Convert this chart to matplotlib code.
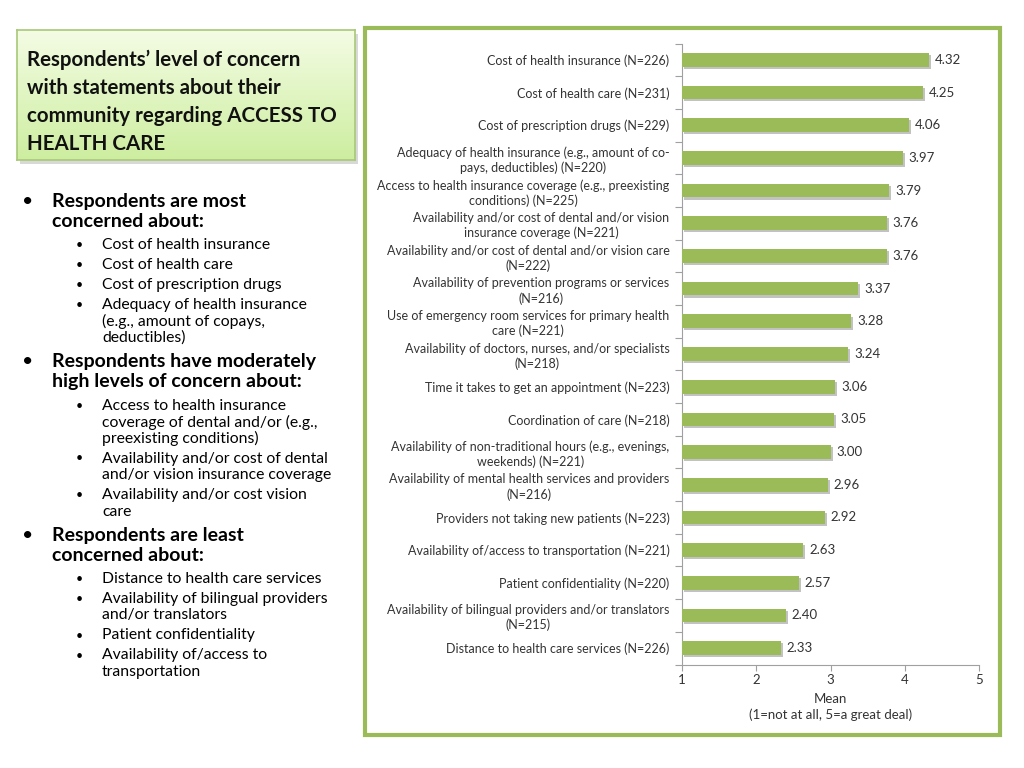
import numpy as np
import matplotlib
matplotlib.use("Agg")
import matplotlib.pyplot as plt
from matplotlib.patches import Rectangle
import matplotlib.patheffects as pe

plt.rcParams['font.family'] = ['Lato', 'DejaVu Sans']

# chart data, top to bottom
items = [
    "Cost of health insurance (N=226)",
    "Cost of health care (N=231)",
    "Cost of prescription drugs (N=229)",
    "Adequacy of health insurance (e.g., amount of co-\npays, deductibles) (N=220)",
    "Access to health insurance coverage (e.g., preexisting\nconditions) (N=225)",
    "Availability and/or cost of dental and/or vision\ninsurance coverage (N=221)",
    "Availability and/or cost of dental and/or vision care\n(N=222)",
    "Availability of prevention programs or services\n(N=216)",
    "Use of emergency room services for primary health\ncare (N=221)",
    "Availability of doctors, nurses, and/or specialists\n(N=218)",
    "Time it takes to get an appointment (N=223)",
    "Coordination of care (N=218)",
    "Availability of non-traditional hours (e.g., evenings,\nweekends) (N=221)",
    "Availability of mental health services and providers\n(N=216)",
    "Providers not taking new patients (N=223)",
    "Availability of/access to transportation (N=221)",
    "Patient confidentiality (N=220)",
    "Availability of bilingual providers and/or translators\n(N=215)",
    "Distance to health care services (N=226)",
]
means = [4.32, 4.25, 4.06, 3.97, 3.79, 3.76, 3.76, 3.37, 3.28, 3.24,
         3.06, 3.05, 3.00, 2.96, 2.92, 2.63, 2.57, 2.40, 2.33]

title = "Respondents\u2019 level of concern\nwith statements about their\ncommunity regarding ACCESS TO\nHEALTH CARE"

# (level, text) level 0 = main bullet, 1 = sub bullet
bullets = [
    (0, "Respondents are most\nconcerned about:"),
    (1, "Cost of health insurance"),
    (1, "Cost of health care"),
    (1, "Cost of prescription drugs"),
    (1, "Adequacy of health insurance\n(e.g., amount of copays,\ndeductibles)"),
    (0, "Respondents have moderately\nhigh levels of concern about:"),
    (1, "Access to health insurance\ncoverage of dental and/or (e.g.,\npreexisting conditions)"),
    (1, "Availability and/or cost of dental\nand/or vision insurance coverage"),
    (1, "Availability and/or cost vision\ncare"),
    (0, "Respondents are least\nconcerned about:"),
    (1, "Distance to health care services"),
    (1, "Availability of bilingual providers\nand/or translators"),
    (1, "Patient confidentiality"),
    (1, "Availability of/access to\ntransportation"),
]

green = "#9bbb59"
W, H = 1024, 768
fig = plt.figure(figsize=(10.24, 7.68), dpi=100)
fig.patch.set_facecolor("white")

def fx(x):
    return x / W

def fy(y):
    return 1 - y / H

# title box with gradient and shadow
fig.patches.append(Rectangle((fx(20), fy(164)), fx(338), 130 / H, transform=fig.transFigure,
                             facecolor="#c8c8c8", edgecolor="none", alpha=0.7, zorder=-2))
tax = fig.add_axes([fx(17), fy(160), fx(338), 130 / H])
grad = np.linspace(0, 1, 100).reshape(-1, 1)
cmap = matplotlib.colors.LinearSegmentedColormap.from_list("g", ["#f4fce4", "#cdeea0"])
tax.imshow(grad, aspect="auto", cmap=cmap, extent=[0, 1, 1, 0])
tax.set_xlim(0, 1)
tax.set_ylim(1, 0)
tax.set_xticks([])
tax.set_yticks([])
for s in tax.spines.values():
    s.set_color("#a8c878")
    s.set_linewidth(1.2)
tax.text(0.03, 0.45, title, transform=tax.transAxes, ha="left", va="center",
         fontsize=14.8, fontweight="bold", color="#111111", linespacing=1.5)

# bullets
y = 201
for i, (lvl, txt) in enumerate(bullets):
    lines = txt.split("\n")
    if i > 0:
        y += 7 if lvl == 0 else (3 if bullets[i - 1][0] == 0 else 3.5)
    if lvl == 0:
        fig.text(fx(22), fy(y), "\u2022", ha="left", va="center", fontsize=14, color="black")
        for ln in lines:
            fig.text(fx(52), fy(y), ln, ha="left", va="center", fontsize=14,
                     fontweight="bold", color="black")
            y += 20.5
    else:
        fig.text(fx(76), fy(y), "\u2022", ha="left", va="center", fontsize=9, color="black")
        for ln in lines:
            fig.text(fx(102), fy(y), ln, ha="left", va="center", fontsize=11.3, color="black")
            y += 16.5

# chart frame
fig.patches.append(Rectangle((fx(365), fy(735)), fx(635), 707 / H, transform=fig.transFigure,
                             facecolor="white", edgecolor=green, linewidth=3, zorder=-1))

ax = fig.add_axes([fx(682), fy(664.5), fx(297), 621 / H])
ax.patch.set_alpha(0)
pos = np.arange(len(items))
bars = ax.barh(pos, [m - 1 for m in means], left=1, height=0.42, color=green,
               edgecolor="none", zorder=3)
for b in bars:
    b.set_path_effects([pe.SimplePatchShadow(offset=(1.5, -1.5), shadow_rgbFace="#9a9a9a", alpha=0.6),
                        pe.Normal()])
for p, m in zip(pos, means):
    ax.text(m + 0.08, p, f"{m:.2f}", ha="left", va="center", fontsize=9.5, color="#333333")

ax.set_ylim(len(items) - 0.5, -0.5)
ax.set_xlim(1, 5)
ax.set_yticks(pos)
ax.set_yticklabels(items, fontsize=9, color="#333333", linespacing=1.25)
for t in ax.get_yticklabels():
    t.set_multialignment("center")
ax.set_yticks(np.arange(len(items) + 1) - 0.5, minor=True)
ax.tick_params(axis="y", which="major", length=0, pad=9)
ax.tick_params(axis="y", which="minor", length=5, color="#a0a0a0", width=0.8)
ax.set_xticks([1, 2, 3, 4, 5])
ax.tick_params(axis="x", length=4, color="#a0a0a0", width=0.8, labelsize=9.5,
               labelcolor="#333333", pad=3)
for s in ["top", "right"]:
    ax.spines[s].set_visible(False)
for s in ["left", "bottom"]:
    ax.spines[s].set_color("#a0a0a0")
    ax.spines[s].set_linewidth(0.8)
ax.set_xlabel("Mean\n(1=not at all, 5=a great deal)", fontsize=9.5, color="#333333",
              labelpad=5, linespacing=1.3)

fig.savefig("out.png", dpi=100, facecolor="white")
